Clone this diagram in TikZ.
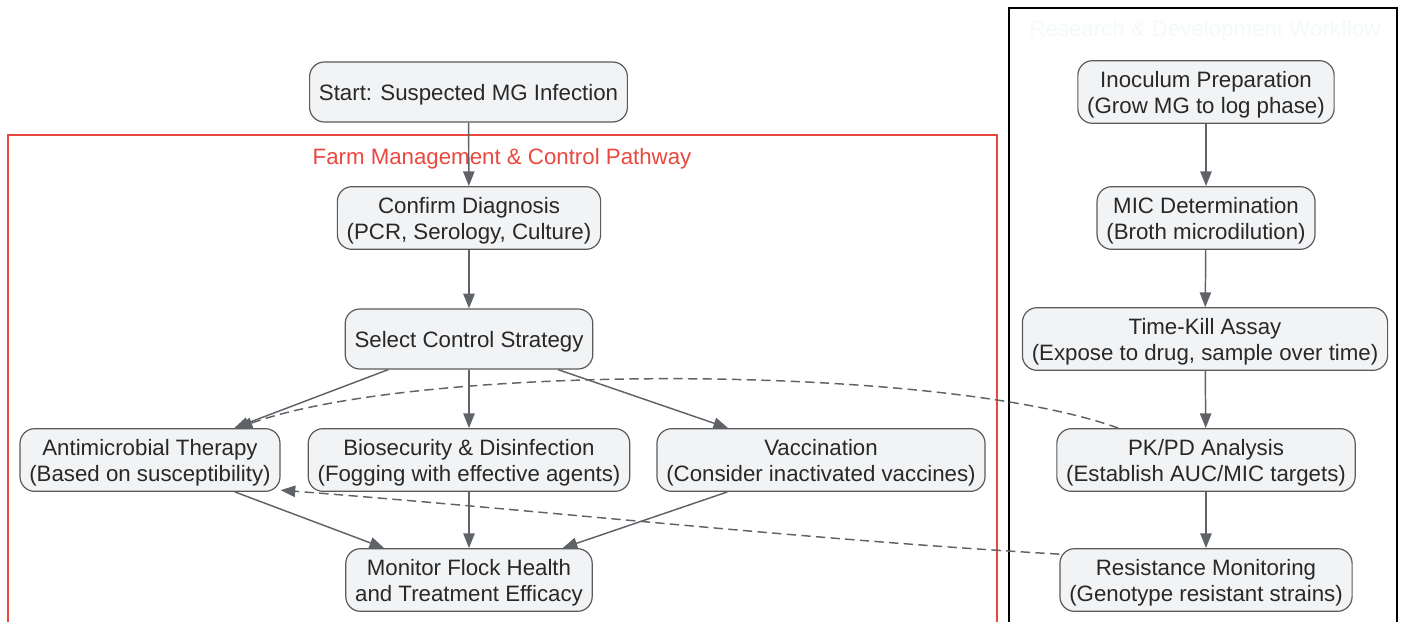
\documentclass[tikz,border=0pt]{standalone}
\usepackage{fontspec}
\setmainfont{Liberation Sans}
\usetikzlibrary{arrows.meta}
\definecolor{nodefill}{RGB}{242,243,245}
\definecolor{nodeline}{RGB}{90,90,92}
\definecolor{edgegray}{RGB}{95,99,104}
\definecolor{textgray}{RGB}{40,40,40}
\definecolor{farmred}{RGB}{232,72,62}
\definecolor{ghost}{RGB}{244,250,245}
% text lowered a little inside its box
\newcommand{\boxtext}[1]{\raisebox{-2.5pt}[\height][\depth]{\begin{tabular}{@{}c@{}}#1\end{tabular}}}
\tikzset{
  stepbox/.style={draw=nodeline, fill=nodefill, line width=0.9pt, rounded corners=11pt,
    align=center, text=textgray, inner xsep=7pt, inner ysep=4pt, minimum height=45pt,
    font=\fontsize{16.7}{19.5}\selectfont},
  flow/.style={draw=edgegray, line width=1.1pt, -{Triangle[length=11pt,width=8.5pt]}},
  feedback/.style={flow, dash pattern=on 7pt off 4pt}
}
\begin{document}
\begin{tikzpicture}[x=0.75pt,y=0.75pt,yscale=-1,xscale=1]
\useasboundingbox (0,0) rectangle (1402,621);

%Clusters
\draw [farmred, line width=0.9pt] (8,135) rectangle (997,630);
\node [text=farmred, font=\fontsize{16.7}{19.5}\selectfont] (farmtitle) at (502,159) {Farm Management \& Control Pathway};
\draw [black, line width=0.9pt] (1009,8) rectangle (1397,630);
\node [text=ghost, font=\fontsize{16.7}{19.5}\selectfont] (rdtitle) at (1205,31) {Research \& Development Workflow};

%Farm pathway
\node [stepbox] (start) at (468.5,92) {\boxtext{Start: Suspected MG Infection}};
\node [stepbox] (confirm) at (469,218) {\boxtext{Confirm Diagnosis\\(PCR, Serology, Culture)}};
\node [stepbox] (select) at (469,339) {\boxtext{Select Control Strategy}};
\node [stepbox] (anti) at (150,460) {\boxtext{Antimicrobial Therapy\\(Based on susceptibility)}};
\node [stepbox] (bio) at (469,460) {\boxtext{Biosecurity \& Disinfection\\(Fogging with effective agents)}};
\node [stepbox] (vacc) at (821,460) {\boxtext{Vaccination\\(Consider inactivated vaccines)}};
\node [stepbox] (monitor) at (469,580) {\boxtext{Monitor Flock Health\\and Treatment Efficacy}};

%R&D workflow
\node [stepbox] (inoc) at (1206,92) {\boxtext{Inoculum Preparation\\(Grow MG to log phase)}};
\node [stepbox] (mic) at (1206,218) {\boxtext{MIC Determination\\(Broth microdilution)}};
\node [stepbox] (kill) at (1205,339) {\boxtext{Time-Kill Assay\\(Expose to drug, sample over time)}};
\node [stepbox] (pkpd) at (1206,460) {\boxtext{PK/PD Analysis\\(Establish AUC/MIC targets)}};
\node [stepbox] (resist) at (1206,580) {\boxtext{Resistance Monitoring\\(Genotype resistant strains)}};

%Edges
\draw [flow] (start) -- (confirm);
\draw [flow] (confirm) -- (select);
\draw [flow] (select) -- (anti);
\draw [flow] (select) -- (bio);
\draw [flow] (select) -- (vacc);
\draw [flow] (anti) -- (monitor);
\draw [flow] (bio) -- (monitor);
\draw [flow] (vacc) -- (monitor);
\draw [flow] (inoc) -- (mic);
\draw [flow] (mic) -- (kill);
\draw [flow] (kill) -- (pkpd);
\draw [flow] (pkpd) -- (resist);

%Feedback
\draw [feedback] (pkpd.160) .. controls +(-180,-65) and +(180,-65) .. (anti.20);
\draw [feedback] (resist.170) .. controls +(-260,-15) and +(260,20) .. (anti.-13);
\end{tikzpicture}
\end{document}
